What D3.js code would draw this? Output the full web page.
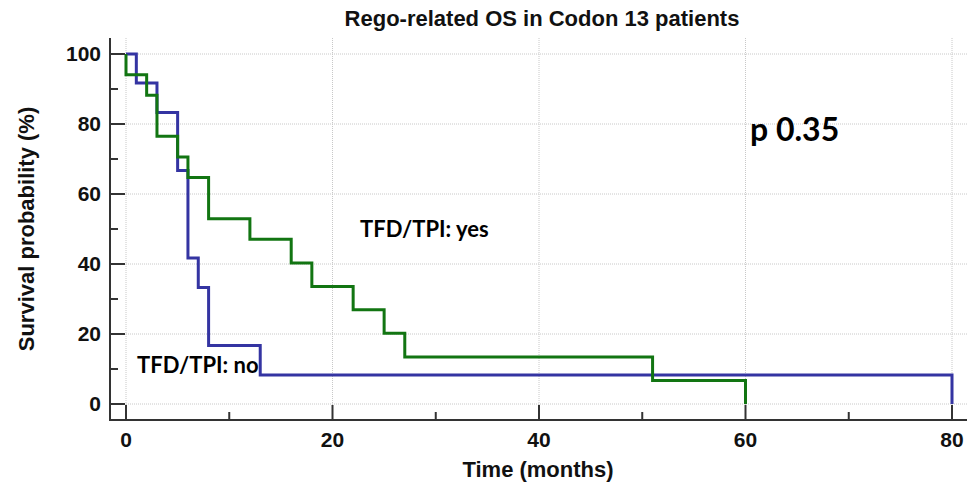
<!DOCTYPE html>
<html>
<head>
<meta charset="utf-8">
<script src="https://cdn.jsdelivr.net/npm/d3@7"></script>
<style>
  body { margin: 0; background: #fff; }
  .grid line { stroke: #c8c8c8; stroke-dasharray: 1,1; }
  .axis text { font-family: "Liberation Sans", Arial, sans-serif; font-weight: bold; font-size: 21px; fill: #111; }
</style>
</head>
<body>
<div id="chart"></div>
<script>
var W = 969, H = 489;
var margin = {top: 38, right: 2, bottom: 69, left: 110};

// Kaplan-Meier steps (time in months, survival in %)
var noTime = [0, 1, 3, 5, 6, 7, 8, 13, 80];
var noSurv = [100, 91.7, 83.3, 66.7, 41.7, 33.3, 16.7, 8.3, 0];

var yesTime = [0, 0, 2, 3, 5, 6, 8, 12, 16, 18, 22, 25, 27, 51, 60];
var yesSurv = [100, 94.1, 88.2, 76.5, 70.6, 64.7, 52.9, 47.1, 40.3, 33.6, 26.9, 20.2, 13.4, 6.7, 0];

var xTicks = [0, 20, 40, 60, 80];
var xMinor = [10, 30, 50, 70];
var yTicks = [0, 20, 40, 60, 80, 100];
var yMinor = [10, 30, 50, 70, 90];

var svg = d3.select("#chart").append("svg")
  .attr("width", W)
  .attr("height", H);

var x = d3.scaleLinear().domain([0, 80]).range([126, 952]);
var y = d3.scaleLinear().domain([0, 100]).range([404, 54]);

var axisY = 420;

// grid
var grid = svg.append("g").attr("class", "grid");
grid.selectAll(".gy").data(yTicks).enter().append("line")
  .attr("x1", margin.left).attr("x2", W - margin.right)
  .attr("y1", d => y(d)).attr("y2", d => y(d));
grid.selectAll(".gx").data(xTicks).enter().append("line")
  .attr("x1", d => x(d)).attr("x2", d => x(d))
  .attr("y1", margin.top).attr("y2", axisY);

// curves
var line = d3.line()
  .x(d => x(d[0]))
  .y(d => y(d[1]))
  .curve(d3.curveStepAfter);

svg.append("path")
  .datum(d3.zip(noTime, noSurv))
  .attr("d", line)
  .attr("fill", "none")
  .attr("stroke", "#3434a2")
  .attr("stroke-width", 3);

svg.append("path")
  .datum(d3.zip(yesTime, yesSurv))
  .attr("d", line)
  .attr("fill", "none")
  .attr("stroke", "#127512")
  .attr("stroke-width", 3);

// axes
var ax = svg.append("g").attr("class", "axis");
ax.append("line")
  .attr("x1", margin.left).attr("x2", margin.left)
  .attr("y1", margin.top).attr("y2", axisY + 1)
  .attr("stroke", "#333").attr("stroke-width", 2);
ax.append("line")
  .attr("x1", margin.left - 1).attr("x2", W - margin.right)
  .attr("y1", axisY).attr("y2", axisY)
  .attr("stroke", "#333").attr("stroke-width", 2);

ax.selectAll(".yt").data(yTicks).enter().append("line")
  .attr("x1", margin.left).attr("x2", margin.left + 15)
  .attr("y1", d => y(d)).attr("y2", d => y(d))
  .attr("stroke", "#333").attr("stroke-width", 2);
ax.selectAll(".ym").data(yMinor).enter().append("line")
  .attr("x1", margin.left).attr("x2", margin.left + 8)
  .attr("y1", d => y(d)).attr("y2", d => y(d))
  .attr("stroke", "#333").attr("stroke-width", 2);
ax.selectAll(".xt").data(xTicks).enter().append("line")
  .attr("x1", d => x(d)).attr("x2", d => x(d))
  .attr("y1", axisY).attr("y2", axisY - 15)
  .attr("stroke", "#333").attr("stroke-width", 2);
ax.selectAll(".xm").data(xMinor).enter().append("line")
  .attr("x1", d => x(d)).attr("x2", d => x(d))
  .attr("y1", axisY).attr("y2", axisY - 8)
  .attr("stroke", "#333").attr("stroke-width", 2);

ax.selectAll(".yl").data(yTicks).enter().append("text")
  .attr("x", 101).attr("y", d => y(d) + 7)
  .attr("text-anchor", "end")
  .text(d => d);
ax.selectAll(".xl").data(xTicks).enter().append("text")
  .attr("x", d => x(d)).attr("y", 447)
  .attr("text-anchor", "middle")
  .text(d => d);

// titles
svg.append("text")
  .attr("x", 542).attr("y", 26)
  .attr("text-anchor", "middle")
  .style("font-family", "Liberation Sans, Arial, sans-serif")
  .style("font-weight", "bold").style("font-size", "22px").style("fill", "#111")
  .text("Rego-related OS in Codon 13 patients");

svg.append("text")
  .attr("x", 538).attr("y", 477)
  .attr("text-anchor", "middle")
  .style("font-family", "Liberation Sans, Arial, sans-serif")
  .style("font-weight", "bold").style("font-size", "22px").style("fill", "#111")
  .text("Time (months)");

svg.append("text")
  .attr("transform", "translate(34,229) rotate(-90)")
  .attr("text-anchor", "middle")
  .style("font-family", "Liberation Sans, Arial, sans-serif")
  .style("font-weight", "bold").style("font-size", "22px").style("fill", "#111")
  .text("Survival probability (%)");

// annotations
var note = "Lato, 'Open Sans', sans-serif";
svg.append("text")
  .attr("x", 750).attr("y", 141)
  .style("font-family", note).style("font-weight", "bold").style("font-size", "32px")
  .text("p 0.35");
svg.append("text")
  .attr("x", 360).attr("y", 237)
  .style("font-family", note).style("font-weight", "bold").style("font-size", "22px")
  .text("TFD/TPI: yes");
svg.append("text")
  .attr("x", 137).attr("y", 373)
  .style("font-family", note).style("font-weight", "bold").style("font-size", "22px")
  .text("TFD/TPI: no");
</script>
</body>
</html>
